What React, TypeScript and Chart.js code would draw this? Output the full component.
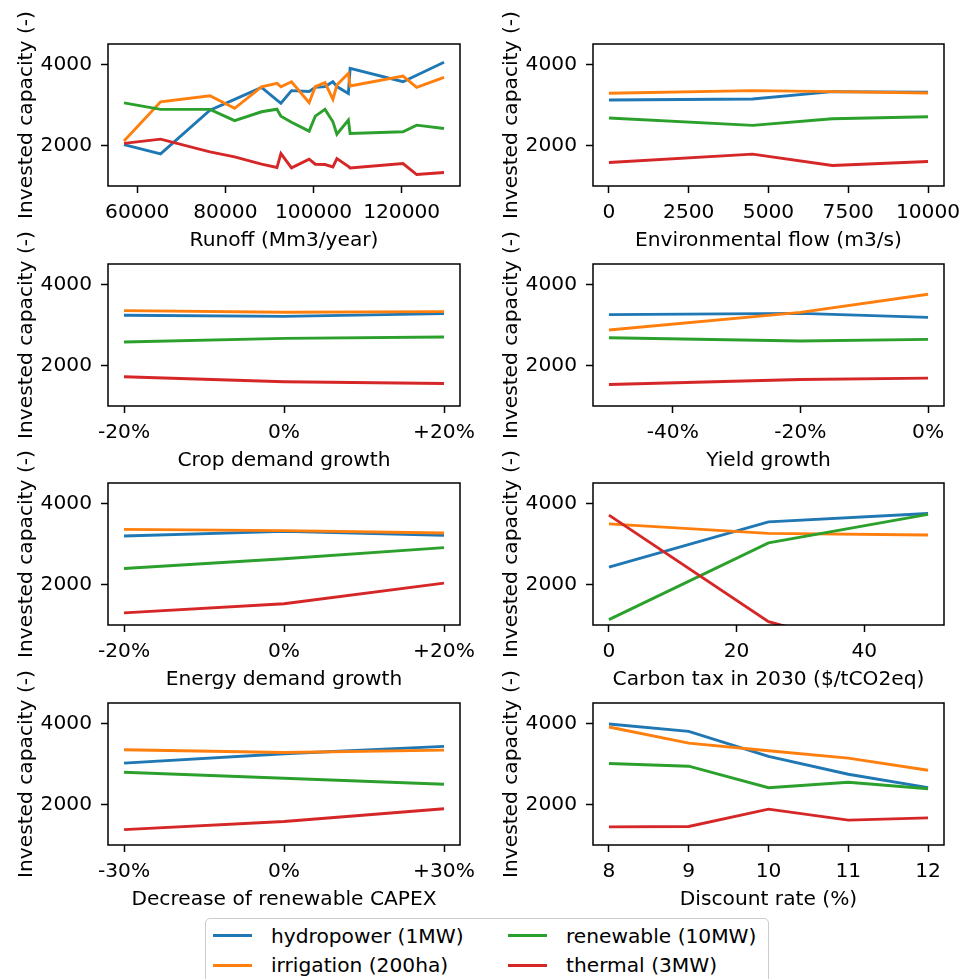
import React, { useEffect, useRef } from 'react';
import { Chart, registerables } from 'chart.js';

Chart.register(...registerables);

const SERIES_NAMES = ['hydropower (1MW)', 'irrigation (200ha)', 'renewable (10MW)', 'thermal (3MW)'];
const COLORS = ['#1f77b4', '#ff7f0e', '#2ca02c', '#d62728'];

// Y axis (shared)
const Y_MIN = 1000;
const Y_MAX = 4500;
const Y_TICKS = [2000, 4000];
const Y_TITLE = 'Invested capacity (-)';

// Panel 1: Runoff
const runoffX = [57000, 65300, 76500, 82100, 88200, 91700, 92600, 95000, 99000, 100400, 102600, 104400, 105300, 107900, 108300, 120300, 123400, 129600];
const runoffHydro = [2020, 1790, 2870, 3135, 3430, 3116, 3040, 3350, 3330, 3430, 3450, 3570, 3450, 3280, 3900, 3570, 3730, 4050];
const runoffIrr = [2110, 3076, 3224, 2913, 3445, 3530, 3447, 3570, 3052, 3447, 3546, 3135, 3489, 3778, 3464, 3711, 3432, 3679];
const runoffRen = [3050, 2888, 2888, 2610, 2830, 2893, 2720, 2570, 2352, 2723, 2888, 2582, 2278, 2624, 2295, 2336, 2500, 2418];
const runoffTh = [2050, 2155, 1841, 1718, 1537, 1455, 1800, 1446, 1661, 1537, 1529, 1471, 1677, 1485, 1446, 1554, 1282, 1331];
const runoffTicks = [60000, 80000, 100000, 120000];

// Panel 2: Environmental flow
const envX = [0, 4500, 7000, 10000];
const envHydro = [3120, 3145, 3325, 3310];
const envIrr = [3285, 3350, 3325, 3292];
const envRen = [2675, 2494, 2658, 2708];
const envTh = [1580, 1786, 1506, 1605];
const envTicks = [0, 2500, 5000, 7500, 10000];

// Panel 3: Crop demand growth
const cropX = [-20, 0, 20];
const cropHydro = [3235, 3210, 3276];
const cropIrr = [3350, 3309, 3325];
const cropRen = [2576, 2667, 2700];
const cropTh = [1720, 1597, 1556];
const cropTicks = [-20, 0, 20];

// Panel 4: Yield growth
const yieldX = [-50, -20, 0];
const yieldHydro = [3251, 3284, 3185];
const yieldIrr = [2872, 3309, 3753];
const yieldRen = [2683, 2601, 2642];
const yieldTh = [1531, 1654, 1687];
const yieldTicks = [-40, -20, 0];

// Panel 5: Energy demand growth
const energyX = [-20, 0, 20];
const energyHydro = [3192, 3308, 3208];
const energyIrr = [3358, 3325, 3267];
const energyRen = [2392, 2633, 2908];
const energyTh = [1300, 1525, 2033];
const energyTicks = [-20, 0, 20];

// Panel 6: Carbon tax
const carbonX = [0, 25, 50];
const carbonHydro = [2425, 3542, 3750];
const carbonIrr = [3492, 3258, 3217];
const carbonRen = [1133, 3025, 3725];
const carbonTh = [3708, 1083, 0];
const carbonTicks = [0, 20, 40];

// Panel 7: Decrease of renewable CAPEX
const capexX = [-30, 0, 30];
const capexHydro = [3017, 3248, 3430];
const capexIrr = [3347, 3281, 3339];
const capexRen = [2794, 2645, 2496];
const capexTh = [1380, 1579, 1893];
const capexTicks = [-30, 0, 30];

// Panel 8: Discount rate
const discX = [8, 9, 10, 11, 12];
const discHydro = [3983, 3802, 3182, 2744, 2413];
const discIrr = [3909, 3512, 3322, 3140, 2843];
const discRen = [3008, 2942, 2413, 2546, 2388];
const discTh = [1446, 1455, 1884, 1612, 1669];
const discTicks = [8, 9, 10, 11, 12];

const plain = (v: number) => String(v);
const pct = (v: number) => (v > 0 ? '+' + v + '%' : v + '%');

type PanelDef = {
  title: string;
  x: number[];
  series: number[][];
  ticks: number[];
  fmt: (v: number) => string;
  col: number;
  row: number;
};

const PANELS: PanelDef[] = [
  { title: 'Runoff (Mm3/year)', x: runoffX, series: [runoffHydro, runoffIrr, runoffRen, runoffTh], ticks: runoffTicks, fmt: plain, col: 0, row: 0 },
  { title: 'Environmental flow (m3/s)', x: envX, series: [envHydro, envIrr, envRen, envTh], ticks: envTicks, fmt: plain, col: 1, row: 0 },
  { title: 'Crop demand growth', x: cropX, series: [cropHydro, cropIrr, cropRen, cropTh], ticks: cropTicks, fmt: pct, col: 0, row: 1 },
  { title: 'Yield growth', x: yieldX, series: [yieldHydro, yieldIrr, yieldRen, yieldTh], ticks: yieldTicks, fmt: pct, col: 1, row: 1 },
  { title: 'Energy demand growth', x: energyX, series: [energyHydro, energyIrr, energyRen, energyTh], ticks: energyTicks, fmt: pct, col: 0, row: 2 },
  { title: 'Carbon tax in 2030 ($/tCO2eq)', x: carbonX, series: [carbonHydro, carbonIrr, carbonRen, carbonTh], ticks: carbonTicks, fmt: plain, col: 1, row: 2 },
  { title: 'Decrease of renewable CAPEX', x: capexX, series: [capexHydro, capexIrr, capexRen, capexTh], ticks: capexTicks, fmt: pct, col: 0, row: 3 },
  { title: 'Discount rate (%)', x: discX, series: [discHydro, discIrr, discRen, discTh], ticks: discTicks, fmt: plain, col: 1, row: 3 },
];

// Layout
const FONT = "'DejaVu Sans', sans-serif";
const FS = 20.2;
const PLOT_TOPS = [44, 264, 483, 703];
const PLOT_H = 142;
const COL_CANVAS_LEFT = [0, 485];
const COL_CANVAS_W = [480, 477];
const COL_PAD_RIGHT = [20, 18];
const Y_AXIS_W = 108;
const X_AXIS_H = 70;
const PAD_TOP = 40;

const framePlugin = {
  id: 'frame',
  afterDatasetsDraw(chart: any) {
    const { ctx, chartArea: a } = chart;
    ctx.save();
    ctx.strokeStyle = '#000';
    ctx.lineWidth = 1.5;
    ctx.strokeRect(a.left, a.top, a.right - a.left, a.bottom - a.top);
    ctx.restore();
  },
};

function Panel({ def }: { def: PanelDef }) {
  const ref = useRef<HTMLCanvasElement | null>(null);
  useEffect(() => {
    if (!ref.current) return;
    const minX = Math.min(...def.x);
    const maxX = Math.max(...def.x);
    const m = (maxX - minX) * 0.05;
    const gridCfg = {
      display: true,
      drawOnChartArea: false,
      drawTicks: true,
      tickLength: 7,
      tickColor: '#000',
      tickWidth: 1.5,
    };
    const chart = new Chart(ref.current, {
      type: 'line',
      data: {
        datasets: def.series.map((s, i) => ({
          label: SERIES_NAMES[i],
          data: def.x.map((x, j) => ({ x, y: s[j] })),
          borderColor: COLORS[i],
          backgroundColor: COLORS[i],
          borderWidth: 2.9,
          pointRadius: 0,
          tension: 0,
          fill: false,
          clip: 0,
          order: 3 - i,
        })),
      },
      options: {
        animation: false,
        responsive: false,
        maintainAspectRatio: false,
        layout: { padding: { top: PAD_TOP, left: 0, right: COL_PAD_RIGHT[def.col], bottom: 0 } },
        plugins: { legend: { display: false }, tooltip: { enabled: false } },
        scales: {
          x: {
            type: 'linear',
            min: minX - m,
            max: maxX + m,
            afterBuildTicks: (s: any) => {
              s.ticks = def.ticks.map((v) => ({ value: v }));
            },
            afterFit: (s: any) => {
              s.height = X_AXIS_H;
              s.paddingLeft = 0;
              s.paddingRight = 0;
            },
            ticks: {
              autoSkip: false,
              maxRotation: 0,
              padding: 7.5,
              color: '#000',
              font: { family: FONT, size: FS },
              callback: (v: any) => def.fmt(Number(v)),
            },
            grid: gridCfg,
            border: { display: false },
            title: {
              display: true,
              text: def.title,
              color: '#000',
              font: { family: FONT, size: FS },
              padding: { top: 0, bottom: 3 },
            },
          },
          y: {
            type: 'linear',
            min: Y_MIN,
            max: Y_MAX,
            afterBuildTicks: (s: any) => {
              s.ticks = Y_TICKS.map((v) => ({ value: v }));
            },
            afterFit: (s: any) => {
              s.width = Y_AXIS_W;
              s.paddingTop = 0;
              s.paddingBottom = 0;
            },
            ticks: {
              padding: 9,
              color: '#000',
              font: { family: FONT, size: FS },
              callback: (v: any) => String(v),
            },
            grid: gridCfg,
            border: { display: false },
            title: {
              display: true,
              text: Y_TITLE,
              color: '#000',
              font: { family: FONT, size: FS },
              padding: { top: 14.5, bottom: 0 },
            },
          },
        },
      },
      plugins: [framePlugin],
    } as any);
    return () => chart.destroy();
  }, [def]);

  const w = COL_CANVAS_W[def.col];
  const h = PAD_TOP + PLOT_H + X_AXIS_H;
  return (
    <canvas
      ref={ref}
      width={w}
      height={h}
      style={{
        position: 'absolute',
        left: COL_CANVAS_LEFT[def.col],
        top: PLOT_TOPS[def.row] - PAD_TOP,
        width: w,
        height: h,
      }}
    />
  );
}

const LEGEND_ITEMS = [
  { i: 0, hx: 213, tx: 271, cy: 935.5 },
  { i: 1, hx: 213, tx: 271, cy: 965 },
  { i: 2, hx: 508, tx: 566, cy: 935.5 },
  { i: 3, hx: 508, tx: 566, cy: 965 },
];

export default function App() {
  return (
    <div
      style={{
        position: 'absolute',
        left: 0,
        top: 0,
        width: 962,
        height: 979,
        overflow: 'hidden',
        background: '#fff',
        fontFamily: FONT,
      }}
    >
      {PANELS.map((p, k) => (
        <Panel key={k} def={p} />
      ))}
      <div
        style={{
          position: 'absolute',
          left: 205,
          top: 918,
          width: 564,
          height: 84,
          border: '1.5px solid #cccccc',
          borderRadius: 5,
          boxSizing: 'border-box',
          background: 'rgba(255,255,255,0.8)',
        }}
      />
      {LEGEND_ITEMS.map((it) => (
        <React.Fragment key={it.i}>
          <div
            style={{
              position: 'absolute',
              left: it.hx,
              top: it.cy - 1.5,
              width: 39,
              height: 3,
              background: COLORS[it.i],
            }}
          />
          <div
            style={{
              position: 'absolute',
              left: it.tx,
              top: it.cy - 12,
              height: 24,
              lineHeight: '24px',
              fontSize: FS,
              color: '#000',
              whiteSpace: 'nowrap',
            }}
          >
            {SERIES_NAMES[it.i]}
          </div>
        </React.Fragment>
      ))}
    </div>
  );
}
